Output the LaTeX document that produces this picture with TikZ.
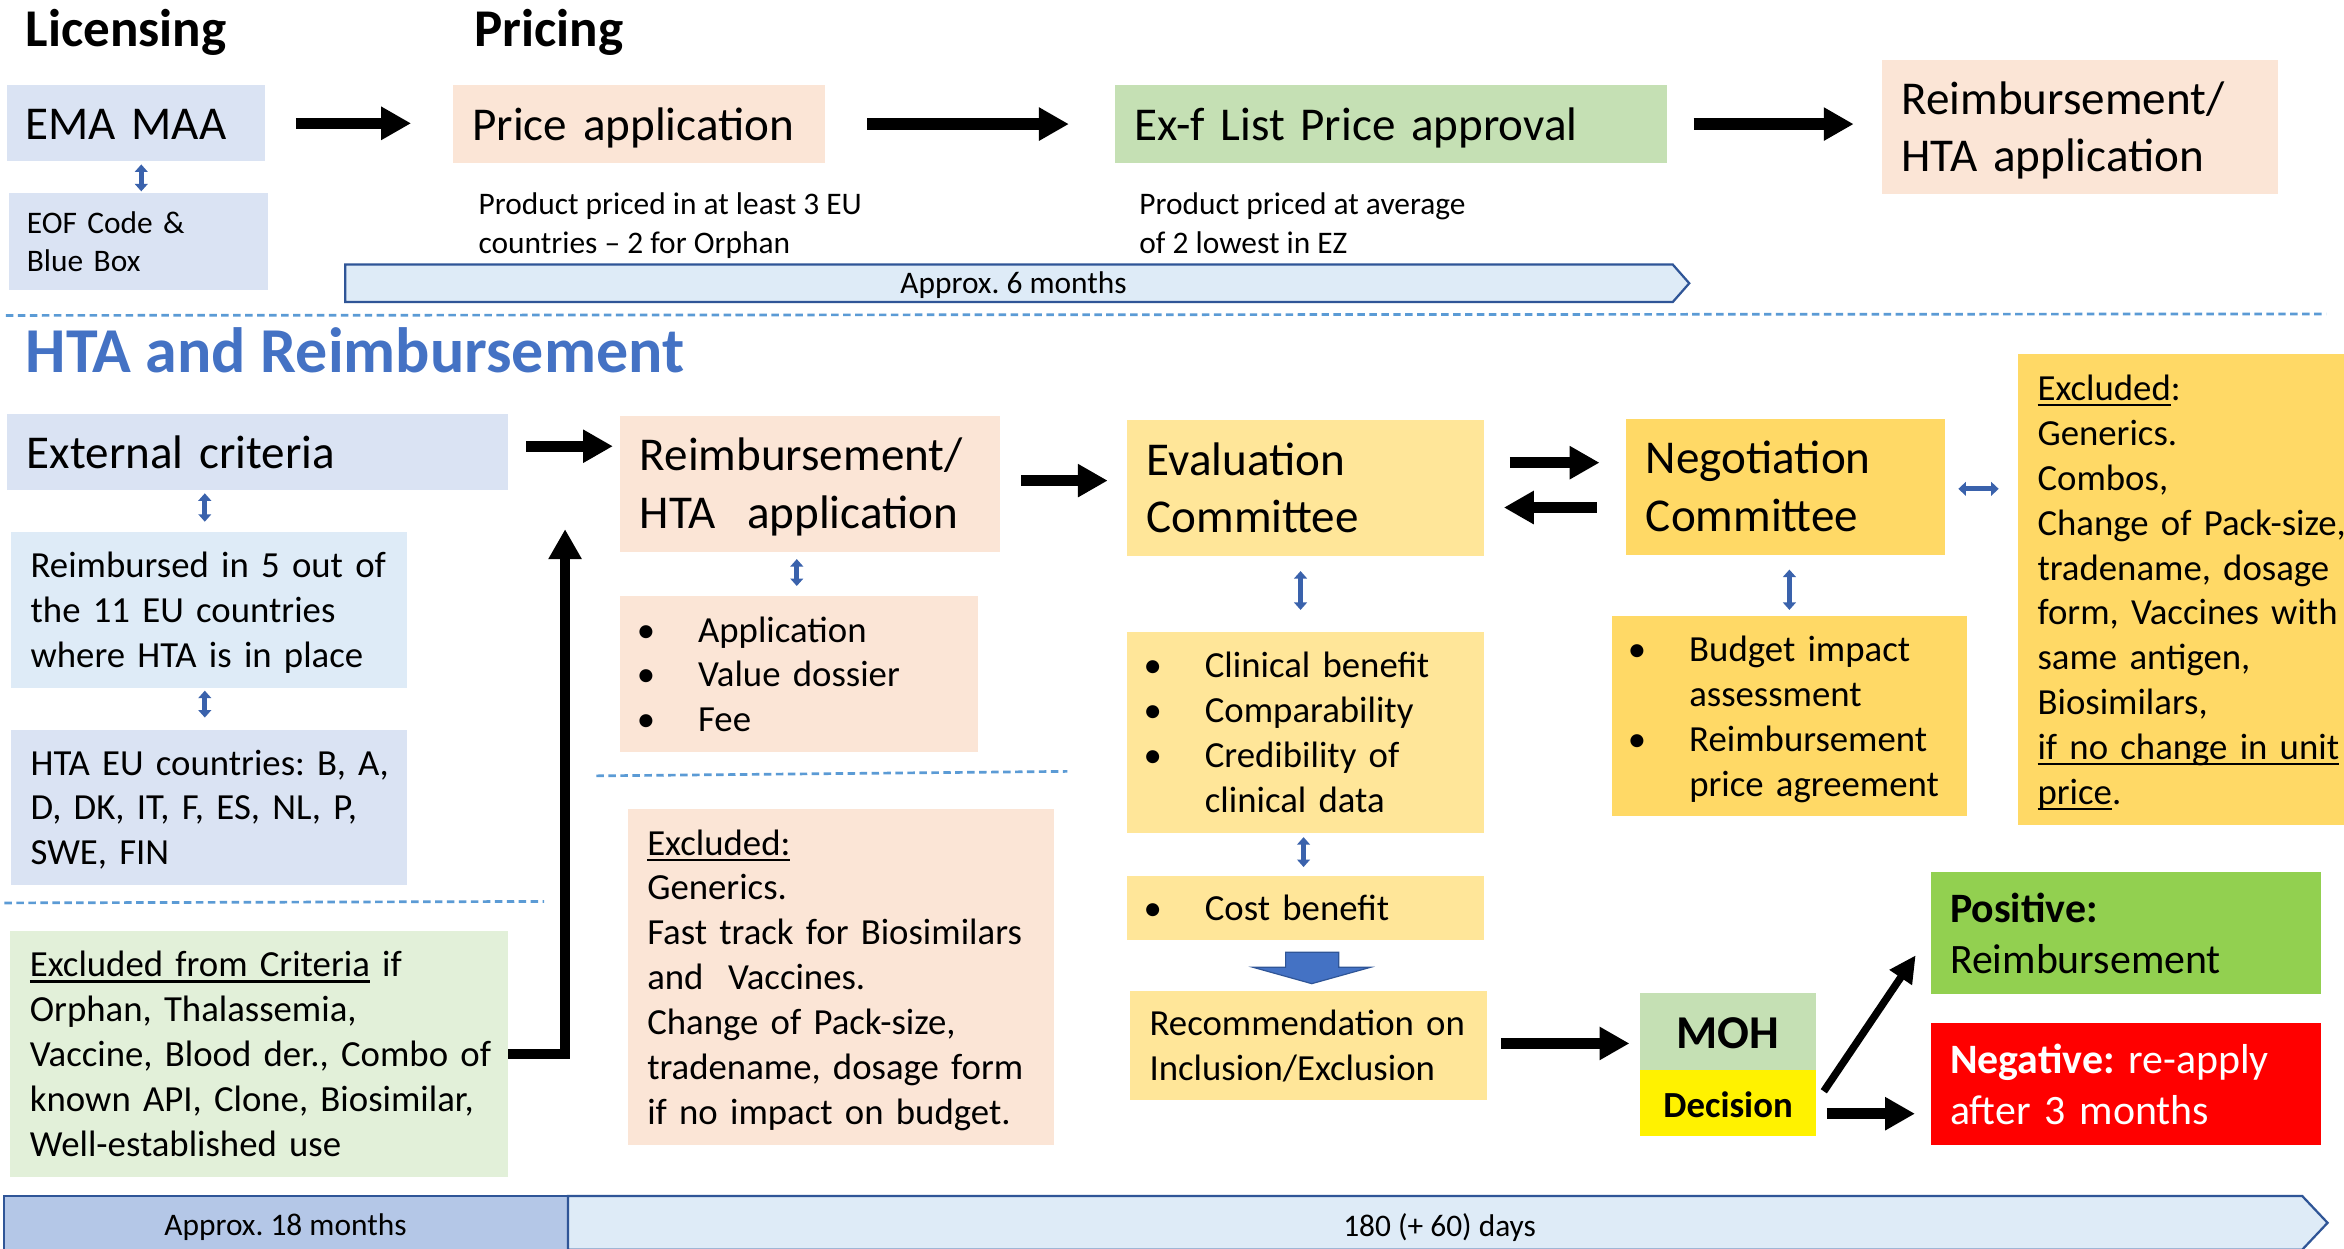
\documentclass[tikz,border=0pt]{standalone}
\usepackage{fontspec}
\setmainfont{Carlito}
\usetikzlibrary{arrows.meta,calc}
\definecolor{cblue}{HTML}{DAE3F3}
\definecolor{cblue2}{HTML}{DEEBF7}
\definecolor{cpeach}{HTML}{FBE5D6}
\definecolor{cgreen}{HTML}{C5E0B4}
\definecolor{cpale}{HTML}{E2F0D9}
\definecolor{cyel}{HTML}{FFE699}
\definecolor{cyel2}{HTML}{FFD966}
\definecolor{cpos}{HTML}{92D050}
\definecolor{ctitle}{HTML}{4472C4}
\definecolor{cbar}{HTML}{B4C7E7}
\definecolor{cbord}{HTML}{2F5597}
\definecolor{cdash}{HTML}{5B9BD5}
\definecolor{carr}{HTML}{3A62AC}
\frenchspacing
\newcommand\fbig{\fontsize{31.5}{38.5}\selectfont}
\newcommand\fmed{\fontsize{24.6}{30}\selectfont}
\newcommand\fsm{\fontsize{21}{25.6}\selectfont}
\newcommand\fpos{\fontsize{28}{34}\selectfont}
\newcommand\lns[2][-2.5pt]{\raisebox{#1}[\height][\depth]{\begin{tabular}{@{}l@{}}#2\end{tabular}}}
\newcommand\bul{\makebox[37pt][l]{\hspace*{-4pt}\textbullet}}
\newcommand\ind{\hspace*{37pt}}
\newcommand\myul[1]{\setbox0\hbox{#1}\rlap{\rule[-3.8pt]{\wd0}{1.5pt}}\box0\relax}
\tikzset{
  bx/.code n args={3}{\pgfmathsetmacro\bxw{#1-2*#3}\edef\bxtmp{\noexpand\tikzset{minimum width=#1pt,minimum height=#2pt,inner xsep=#3pt,text width=\bxw pt}}\bxtmp},
  box/.style={anchor=north west, inner ysep=0pt, outer sep=0pt, align=left, draw=none},
  bigarr/.style={line width=7.5pt, -{Triangle[length=20pt,width=21pt]}},
  uparr/.style={line width=6.5pt, line join=miter, -{Triangle[length=20pt,width=21pt]}},
  diagarr/.style={line width=5pt, -{Triangle[length=18pt,width=17pt]}},
  bdbl/.style={draw=carr, line width=3.2pt, {Triangle[length=5pt,width=8.5pt]}-{Triangle[length=5pt,width=8.5pt]}},
  hdbl/.style={draw=carr, line width=3.4pt, {Triangle[length=5pt,width=9pt]}-{Triangle[length=5pt,width=9pt]}},
  dline/.style={draw=cdash, line width=1.8pt, dash pattern=on 5pt off 3pt},
  bartxt/.style={font=\fsm, inner sep=0pt},
}
\begin{document}
\begin{tikzpicture}[x=1pt,y=-1pt]
\useasboundingbox (0,0) rectangle (1568,835);
\fill[white] (0,0) rectangle (1568,835);

% titles
\node[anchor=base west, inner sep=0pt, font=\fontsize{35.5}{42}\bfseries\selectfont] (lic) at (17,31) {Licensing};
\node[anchor=base west, inner sep=0pt, font=\fontsize{35.5}{42}\bfseries\selectfont] (pri) at (317,31) {Pricing};
\node[anchor=base west, inner sep=0pt, text=ctitle, font=\fontsize{42.8}{50}\bfseries\selectfont] (hta) at (17,249) {HTA and Reimbursement};

% top row
\node[box, bx={172}{51}{12}, fill=cblue, font=\fbig] (ema) at (5,57) {\lns[-3pt]{EMA MAA}};
\node[box, bx={173}{65}{12}, fill=cblue, font=\fsm] (eof) at (6,129) {\lns{EOF Code \&\\Blue Box}};
\node[box, bx={249}{52}{13}, fill=cpeach, font=\fbig] (price) at (303,57) {\lns[-3pt]{Price application}};
\node[box, bx={369}{52}{13}, fill=cgreen, font=\fbig] (exf) at (746,57) {\lns[-3pt]{Ex-f List Price approval}};
\node[box, bx={265}{90}{13}, fill=cpeach, font=\fbig] (rhtop) at (1259,40) {\lns[-3pt]{Reimbursement/\\HTA application}};
\node[anchor=west, inner sep=0pt, font=\fsm] (pp1) at (320,151.5) {\lns[0pt]{Product priced in at least 3 EU\\countries -- 2 for Orphan}};
\node[anchor=west, inner sep=0pt, font=\fsm] (pp2) at (762,151.5) {\lns[0pt]{Product priced at average\\of 2 lowest in EZ}};

% 6 months bar
\draw[fill=cblue2, draw=cbord, line width=1.5pt] (231,177) -- (1119,177) -- (1130,189.5) -- (1119,202) -- (231,202) -- cycle;
\node[bartxt] (six) at (678,191) {Approx. 6 months};

\draw[dline] (4,211) -- (1556,210);

% left column
\node[box, bx={335}{51}{13}, fill=cblue, font=\fbig] (ext) at (5,277) {\lns[-3pt]{External criteria}};
\node[box, bx={265}{104}{13}, fill=cblue2, font=\fmed] (reimb11) at (7.5,356) {\lns{Reimbursed in 5 out of\\the 11 EU countries\\where HTA is in place}};
\node[box, bx={265}{104}{13}, fill=cblue, font=\fmed] (htaeu) at (7.5,488) {\lns{HTA EU countries: B, A,\\D, DK, IT, F, ES, NL, P,\\SWE, FIN}};
\draw[dline] (3,604) -- (364,603);
\node[box, bx={333}{164}{13}, fill=cpale, font=\fmed] (excrit) at (7,623) {\lns{\myul{Excluded from Criteria} if\\Orphan, Thalassemia,\\Vaccine, Blood der., Combo of\\known API, Clone, Biosimilar,\\Well-established use}};

% middle column
\node[box, bx={254}{91}{13}, fill=cpeach, font=\fbig] (rha) at (415,278) {\lns[-3pt]{Reimbursement/\\HTA~ application}};
\node[box, bx={239}{104}{15}, fill=cpeach, font=\fmed] (appl) at (415,399) {\lns{\bul Application\\\bul Value dossier\\\bul Fee}};
\draw[dline] (399,519) -- (714,516);
\node[box, bx={285}{225}{13}, fill=cpeach, font=\fmed] (exmid) at (420,541) {\lns{\myul{Excluded:}\\Generics.\\Fast track for Biosimilars\\and~ Vaccines.\\Change of Pack-size,\\tradename, dosage form\\if no impact on budget.}};

% evaluation column
\node[box, bx={239}{91}{13}, fill=cyel, font=\fbig] (eval) at (754,281) {\lns[-3pt]{Evaluation\\Committee}};
\node[box, bx={239}{134}{15}, fill=cyel, font=\fmed] (evbul) at (754,423) {\lns{\bul Clinical benefit\\\bul Comparability\\\bul Credibility of\\\ind clinical data}};
\node[box, bx={239}{43}{15}, fill=cyel, font=\fmed] (cost) at (754,586) {\lns{\bul Cost benefit}};
\node[box, bx={239}{73}{13}, fill=cyel, font=\fmed] (reco) at (756,663) {\lns{Recommendation on\\Inclusion/Exclusion}};
\draw[fill=ctitle, draw=cbord, line width=0.8pt] (860,637) -- (895.5,637) -- (895.5,647) -- (917,647) -- (877.5,658) -- (838,647) -- (860,647) -- cycle;

% negotiation column
\node[box, bx={213}{91}{13}, fill=cyel2, font=\fbig] (neg) at (1088,280) {\lns[-3pt]{Negotiation\\Committee}};
\node[box, bx={238}{134}{15}, fill=cyel2, font=\fmed] (negbul) at (1078,412) {\lns{\bul Budget impact\\\ind assessment\\\bul Reimbursement\\\ind price agreement}};
\node[box, bx={260}{315}{13}, fill=cyel2, font=\fmed] (exright) at (1350,237) {\lns{\myul{Excluded}:\\Generics.\\Combos,\\Change of Pack-size,\\tradename, dosage\\form, Vaccines with\\same antigen,\\Biosimilars,\\\myul{if no change in unit}\\\myul{price}.}};

% decision
\node[box, bx={118}{52}{0}, align=center, fill=cgreen, font=\fbig\bfseries] (moh) at (1097,664) {\raisebox{-1pt}[\height][\depth]{MOH}};
\node[box, bx={118}{44}{0}, align=center, fill=yellow, font=\fmed\bfseries] (dec) at (1097,716) {\raisebox{-1pt}[\height][\depth]{Decision}};
\node[box, bx={261}{82}{13}, fill=cpos, font=\fpos] (pos) at (1291.5,583) {\lns[-3.5pt]{\textbf{Positive:}\\Reimbursement}};
\node[box, bx={261}{82}{13}, fill=red, text=white, font=\fpos] (negv) at (1291.5,684) {\lns[-3.5pt]{\textbf{Negative:} re-apply\\after 3 months}};

% bottom bar
\draw[fill=cbar, draw=cbord, line width=1.5pt] (2.5,800) rectangle (380,836);
\draw[fill=cblue2, draw=cbord, line width=1.5pt] (380,800) -- (1540,800) -- (1557,818) -- (1540,836) -- (380,836) -- cycle;
\node[bartxt] (m18) at (191,821) {Approx. 18 months};
\node[bartxt] (d180) at (963,821) {180 (+ 60) days};

% black arrows
\draw[bigarr, shorten <=21pt, shorten >=28pt] (ema.east) -- (ema.east -| price.west);
\draw[bigarr, shorten <=28pt, shorten >=31pt] (price.east) -- (price.east -| exf.west);
\draw[bigarr, shorten <=18pt, shorten >=19pt] (exf.east) -- (exf.east -| rhtop.west);
\draw[bigarr, shorten <=12pt, shorten >=5pt] ([yshift=4pt]ext.east) -- ([yshift=4pt]ext.east -| rha.west);
\draw[bigarr, shorten <=14pt, shorten >=13pt] ([yshift=2pt]rha.east) -- ([yshift=2pt]rha.east -| eval.west);
\draw[bigarr, shorten <=17pt, shorten >=18pt] ([yshift=17pt]eval.east) -- ([yshift=17pt]eval.east -| neg.west);
\draw[bigarr, shorten <=20pt, shorten >=13pt] ([yshift=-14pt]neg.west) -- ([yshift=-14pt]neg.west -| eval.east);
\draw[bigarr, shorten <=9pt, shorten >=7pt] ([yshift=1.5pt]reco.east) -- ([yshift=1.5pt]reco.east -| moh.west);
\draw[bigarr, shorten <=7pt, shorten >=10.5pt] ([yshift=-7pt]dec.east) -- ([yshift=-7pt]dec.east -| negv.west);
\draw[diagarr] ([shift={(5pt,-14pt)}]dec.north east) -- ([shift={(-10pt,-56pt)}]pos.north west);
\coordinate (upend) at (378,354);
\draw[uparr] (excrit.east) -| (upend);

% blue double arrows
\draw[bdbl, shorten <=2pt, shorten >=1pt] ([xshift=3.5pt]ema.south) -- ([xshift=3.5pt]ema.south |- eof.north);
\draw[bdbl, shorten <=2pt, shorten >=7pt] ([xshift=-3pt]reimb11.north |- ext.south) -- ([xshift=-3pt]reimb11.north);
\draw[bdbl, shorten <=2pt, shorten >=8pt] ([xshift=-3pt]reimb11.south) -- ([xshift=-3pt]reimb11.south |- htaeu.north);
\draw[bdbl, shorten <=5pt, shorten >=7pt] ([xshift=-1.5pt]appl.north |- rha.south) -- ([xshift=-1.5pt]appl.north);
\draw[bdbl, shorten <=10pt, shorten >=15pt] ([xshift=-3.5pt]eval.south) -- ([xshift=-3.5pt]eval.south |- evbul.north);
\draw[bdbl, shorten <=3pt, shorten >=6pt] ([xshift=-1.5pt]evbul.south) -- ([xshift=-1.5pt]evbul.south |- cost.north);
\draw[bdbl, shorten <=10pt, shorten >=4pt] (negbul.north |- neg.south) -- (negbul.north);
\draw[hdbl, shorten <=9pt, shorten >=13pt] ([yshift=-1.5pt]neg.east) -- ([yshift=-1.5pt]neg.east -| exright.west);
\end{tikzpicture}
\end{document}
